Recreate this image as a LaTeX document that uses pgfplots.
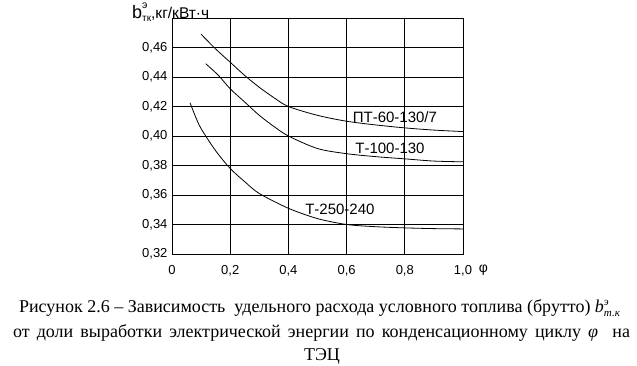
\documentclass[border=0pt]{standalone}
\usepackage{fontspec}
\setmainfont{Liberation Serif}
\newfontfamily\chartfont{Liberation Sans}
\usepackage{pgfplots}
\pgfplotsset{compat=1.18}
\begin{document}
\begin{tikzpicture}[x=1pt,y=1pt]
\useasboundingbox (0,0) rectangle (637,366);
\begin{axis}[
  at={(172pt,112pt)}, anchor=south west,
  scale only axis, width=291pt, height=236pt,
  xmin=0, xmax=1.0, ymin=0.32, ymax=0.48,
  xtick={0,0.2,0.4,0.6,0.8,1.0},
  xticklabels={0,{0,2},{0,4},{0,6},{0,8},{1,0}},
  ytick={0.32,0.34,0.36,0.38,0.40,0.42,0.44,0.46,0.48},
  yticklabels={{0,32},{0,34},{0,36},{0,38},{0,40},{0,42},{0,44},{0,46},{}},
  grid=major,
  grid style={black, line width=0.8pt},
  axis line style={black, line width=0.8pt},
  major tick length=0pt,
  ticklabel style={font=\chartfont\fontsize{13}{13}\selectfont},
  xticklabel style={yshift=-8pt},
  yticklabel style={xshift=-1pt},
  clip=false,
]
\addplot[black, line width=0.8pt, smooth] coordinates {
(0.10,0.469) (0.15,0.459) (0.2,0.450) (0.25,0.441) (0.3,0.433) (0.35,0.426) (0.4,0.420) (0.5,0.414) (0.6,0.410) (0.7,0.4075) (0.8,0.4055) (0.9,0.404) (1.0,0.403)};
\addplot[black, line width=0.8pt, smooth] coordinates {
(0.116,0.449) (0.16,0.441) (0.2,0.432) (0.25,0.423) (0.3,0.414) (0.35,0.4065) (0.4,0.400) (0.5,0.3915) (0.6,0.388) (0.7,0.386) (0.8,0.3845) (0.9,0.383) (1.0,0.3825)};
\addplot[black, line width=0.8pt, smooth] coordinates {
(0.062,0.4225) (0.08,0.4135) (0.1,0.405) (0.15,0.390) (0.2,0.378) (0.25,0.369) (0.3,0.361) (0.4,0.351) (0.5,0.344) (0.6,0.340) (0.7,0.3385) (0.8,0.3377) (0.9,0.3372) (1.0,0.337)};
\node[font=\chartfont\fontsize{15}{16}\selectfont, inner sep=1pt] at (axis cs:0.766,0.4129) {ПТ-60-130/7};
\node[font=\chartfont\fontsize{15}{16}\selectfont, inner sep=1pt] at (axis cs:0.749,0.3919) {Т-100-130};
\node[font=\chartfont\fontsize{15}{16}\selectfont, inner sep=1pt] at (axis cs:0.577,0.3502) {Т-250-240};
\node[font=\chartfont\fontsize{14}{14}\selectfont, anchor=west, inner sep=1pt] at (axis cs:1.05,0.32) [yshift=-16pt] {φ};
\end{axis}
\node[font=\chartfont\fontsize{15.5}{15.5}\selectfont, anchor=base west, inner sep=0pt] at (132,347) {{\fontsize{18}{18}\selectfont b}\rlap{\raisebox{1.25ex}{\fontsize{10.5}{10.5}\selectfont э}}\raisebox{-0.3ex}{\fontsize{10}{10}\selectfont тк},кг/кВт·ч};
\node[font=\fontsize{18}{18}\selectfont, anchor=base, inner sep=0pt] at (319.5,53) {Рисунок 2.6 – Зависимость\ \ удельного расхода условного топлива (брутто)\ \textit{b}\rlap{\raisebox{0.95ex}{\fontsize{11}{11}\selectfont\itshape э}}\raisebox{-0.45ex}{\fontsize{11}{11}\selectfont\itshape т.к}};
\node[font=\fontsize{18}{18}\selectfont, anchor=base, inner sep=0pt] at (321.5,28) {\makebox[617pt][s]{от доли выработки электрической энергии по конденсационному циклу \textit{φ}\ \ на}};
\node[font=\fontsize{18}{18}\selectfont, anchor=base, inner sep=0pt] at (322,5) {ТЭЦ};
\end{tikzpicture}
\end{document}
